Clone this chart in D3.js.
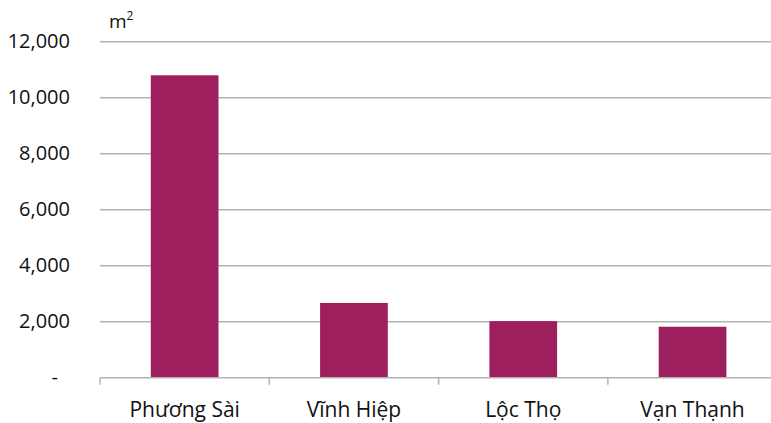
<!DOCTYPE html>
<html>
<head>
<meta charset="utf-8">
<script src="https://cdn.jsdelivr.net/npm/d3@7"></script>
<style>
  body { margin: 0; background: #fff; }
  text { font-family: "Open Sans", "Noto Sans", sans-serif; fill: #111; }
</style>
</head>
<body>
<div id="chart"></div>
<script>
// values, square metres
var categories = ["Phương Sài", "Vĩnh Hiệp", "Lộc Thọ", "Vạn Thạnh"];
var areas = [10800, 2670, 2020, 1820];
var yTicks = [0, 2000, 4000, 6000, 8000, 10000, 12000];

var W = 771, H = 423;
var margin = {top: 41.7, left: 100, bottom: 423 - 377.7};

var svg = d3.select("#chart")
    .append("svg")
    .attr("width", W)
    .attr("height", H);

var x = d3.scaleBand()
    .domain(categories)
    .range([margin.left, margin.left + 4 * 169.3])
    .paddingInner(0.6)
    .paddingOuter(0.3);

var y = d3.scaleLinear()
    .domain([0, 12000])
    .range([H - margin.bottom, margin.top]);

// gridlines
svg.append("g")
    .selectAll("line")
    .data(yTicks.slice(1))
    .enter().append("line")
    .attr("x1", margin.left)
    .attr("x2", W)
    .attr("y1", function(d){ return y(d); })
    .attr("y2", function(d){ return y(d); })
    .attr("stroke", "#b3b3b3")
    .attr("stroke-width", 1.5);

// y labels
svg.append("g")
    .selectAll("text")
    .data(yTicks)
    .enter().append("text")
    .attr("x", function(d){ return d === 0 ? 58 : 70; })
    .attr("y", function(d){ return y(d) + 6.5; })
    .attr("text-anchor", "end")
    .style("font-size", "20px")
    .text(function(d){ return d === 0 ? "-" : d3.format(",")(d); });

// unit
var unit = svg.append("text")
    .attr("x", 109)
    .attr("y", 28)
    .style("font-size", "19px")
    .text("m");
unit.append("tspan")
    .attr("dy", -8)
    .style("font-size", "12px")
    .text("2");

// bars
svg.append("g")
    .selectAll("rect")
    .data(areas)
    .enter().append("rect")
    .attr("x", function(d, i){ return x(categories[i]); })
    .attr("y", function(d){ return y(d); })
    .attr("width", x.bandwidth())
    .attr("height", function(d){ return y(0) - y(d); })
    .attr("fill", "#9e1f5d");

// x axis
svg.append("line")
    .attr("x1", margin.left)
    .attr("x2", W)
    .attr("y1", y(0))
    .attr("y2", y(0))
    .attr("stroke", "#b3b3b3")
    .attr("stroke-width", 1.5);

var step = x.step();
svg.append("g")
    .selectAll("line")
    .data(d3.range(categories.length + 1))
    .enter().append("line")
    .attr("x1", function(i){ return margin.left + i * step; })
    .attr("x2", function(i){ return margin.left + i * step; })
    .attr("y1", y(0))
    .attr("y2", y(0) + 7)
    .attr("stroke", "#b3b3b3")
    .attr("stroke-width", 1.5);

svg.append("g")
    .selectAll("text")
    .data(categories)
    .enter().append("text")
    .attr("x", function(d){ return x(d) + x.bandwidth() / 2; })
    .attr("y", 416.7)
    .attr("text-anchor", "middle")
    .style("font-size", "21px")
    .text(function(d){ return d; });
</script>
</body>
</html>
